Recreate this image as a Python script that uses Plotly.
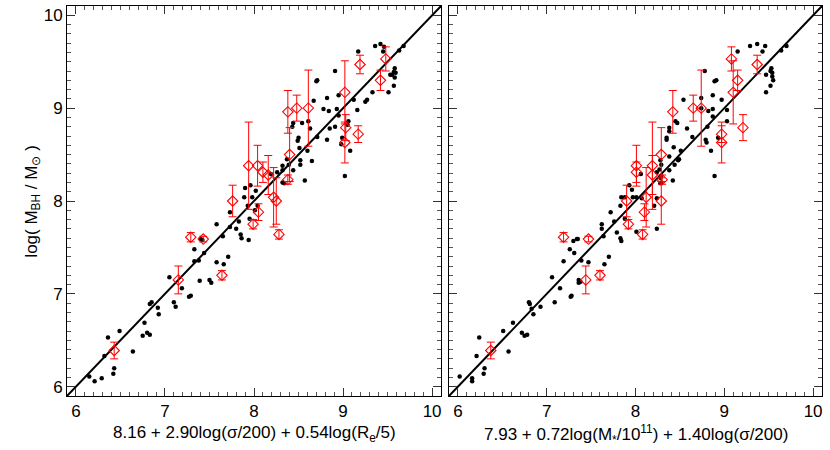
import plotly.graph_objects as go

# ---------------- data ----------------
# Left panel: black points
left_x = [9.36, 9.42, 9.46, 9.45, 9.68, 9.63, 9.17, 9.58, 9.57, 9.59,
          9.53, 9.55, 9.58, 9.57, 9.51, 9.33, 9.27, 9.25, 9.16, 9.12,
          8.91, 8.95, 8.82, 8.71, 8.70, 8.67, 8.78, 8.84, 8.93, 8.95,
          9.06, 9.05, 8.91, 8.85, 8.71, 8.82, 8.99, 8.98, 9.08, 9.02,
          8.61, 8.54, 8.63, 8.43, 8.44, 8.50, 8.49, 8.51, 8.60, 8.65,
          8.52, 8.52, 8.44, 8.39, 8.32, 8.32, 8.37, 8.26, 8.32, 8.34,
          8.57, 8.19, 7.96, 7.90, 8.02, 7.98, 7.89,
          8.04, 7.93, 8.01, 7.95, 7.94, 7.83, 7.80, 7.85, 7.86, 7.73,
          7.73, 7.58, 7.65, 7.71, 7.66, 7.58, 7.33, 7.33, 7.38, 7.44,
          7.40, 7.42, 7.39, 7.50, 7.52, 7.05, 7.19, 7.10, 7.12, 7.27,
          7.29, 6.85, 6.83, 6.92, 6.93, 6.77, 6.75, 6.80, 6.83, 6.49,
          6.36, 6.32, 6.64, 6.43, 6.42, 6.29, 6.21, 6.15]
left_y = [9.67, 9.69, 9.66, 9.61, 9.67, 9.62, 9.61, 9.43, 9.39, 9.38,
          9.36, 9.36, 9.33, 9.24, 9.17, 9.17, 9.09, 9.07, 8.98, 9.09,
          9.40, 9.14, 9.11, 9.30, 9.29, 9.08, 8.99, 8.97, 8.99, 8.92,
          8.86, 8.82, 8.80, 8.78, 8.69, 8.66, 8.68, 8.61, 8.54, 8.27,
          8.86, 8.84, 8.78, 8.80, 8.84, 8.68, 8.65, 8.57, 8.54, 8.43,
          8.44, 8.39, 8.33, 8.39, 8.38, 8.33, 8.45, 8.31, 8.20, 8.19,
          8.22, 8.29, 8.17, 8.14, 8.11, 8.04, 8.04,
          7.95, 7.95, 7.90, 7.81, 7.58, 7.78, 7.70, 7.64, 7.60, 7.88,
          7.72, 7.75, 7.62, 7.40, 7.32, 7.34, 7.48, 7.35, 7.36, 7.44,
          7.59, 7.58, 7.14, 7.15, 7.12, 7.18, 7.06, 6.91, 6.86, 6.97,
          6.98, 6.91, 6.89, 6.85, 6.78, 6.69, 6.55, 6.58, 6.56, 6.60,
          6.53, 6.33, 6.38, 6.20, 6.14, 6.09, 6.06, 6.11]

# Red points with errors (same M_BH in both panels)
red_y = [9.53, 9.47, 9.30, 9.17, 8.79, 8.63, 8.72, 8.96, 9.00, 9.00,
         8.50, 8.23, 8.38, 8.38, 8.31, 8.28, 8.04, 8.00, 7.88, 7.75,
         7.64, 8.00, 7.61, 7.59, 7.15, 7.20, 6.39]
red_err = [0.13, 0.10, 0.11, 0.34, 0.14, 0.22, 0.09, 0.23, 0.14, 0.41,
           0.29, 0.05, 0.47, 0.22, 0.11, 0.21, 0.32, 0.25, 0.09, 0.05,
           0.05, 0.17, 0.05, 0.03, 0.15, 0.05, 0.09]
left_red_x = [9.48, 9.19, 9.42, 9.02, 9.03, 9.02, 9.17, 8.38, 8.48, 8.61,
              8.40, 8.38, 7.94, 8.04, 8.10, 8.16, 8.22, 8.25, 8.05, 7.99,
              8.28, 7.76, 7.29, 7.43, 7.15, 7.64, 6.43]
right_red_x = [9.08, 9.37, 9.15, 9.10, 9.21, 8.97, 8.97, 8.42, 8.65, 8.74,
               8.29, 8.30, 8.19, 8.01, 8.01, 8.19, 8.12, 8.29, 8.10, 7.92,
               8.08, 7.90, 7.19, 7.47, 7.44, 7.60, 6.37]

# Right panel: black points
right_x = [9.29, 9.37, 9.46, 9.43, 9.64, 9.70, 9.15, 9.53, 9.52, 9.54,
           9.54, 9.55, 9.47, 9.52, 9.47, 8.78, 8.89, 8.91, 8.87, 8.74,
           8.97, 8.54, 8.87, 8.82, 8.74, 8.87, 9.03, 9.03, 8.45, 8.47,
           8.81, 8.58, 8.38, 8.38, 8.64, 8.79, 8.80, 8.93, 8.35, 8.35,
           8.43, 8.51, 8.85, 8.48, 8.49, 8.44, 8.38, 8.28, 8.29, 8.27,
           8.24, 8.29, 8.38, 8.42, 8.28, 8.29, 8.28, 8.89, 8.06, 7.96,
           8.01, 8.07, 8.24, 8.21, 8.24, 8.01,
           7.97, 7.84, 7.88, 7.83, 7.88, 7.76, 7.79, 7.83, 7.84, 7.72,
           7.62, 7.62, 7.64, 7.70, 7.65, 7.47, 7.39, 7.31, 7.26, 7.19,
           7.30, 7.34, 7.35, 7.36, 7.38, 7.36, 7.06, 7.15, 7.27, 7.28,
           7.09, 6.93, 6.80, 6.81, 6.83, 6.85, 6.62, 6.51, 6.72, 6.75,
           6.78, 6.57, 6.24, 6.21, 6.30, 6.29, 6.16, 6.16, 6.02, 7.93]
right_y = [9.67, 9.69, 9.67, 9.61, 9.62, 9.67, 9.61, 9.43, 9.40, 9.38,
           9.34, 9.30, 9.36, 9.24, 9.17, 9.40, 9.29, 9.30, 9.14, 9.11,
           9.09, 9.09, 8.99, 8.97, 9.00, 8.91, 8.98, 8.86, 8.86, 8.84,
           8.80, 8.78, 8.79, 8.75, 8.69, 8.66, 8.63, 8.68, 8.68, 8.66,
           8.58, 8.54, 8.54, 8.44, 8.45, 8.39, 8.48, 8.44, 8.39, 8.34,
           8.31, 8.27, 8.33, 8.22, 8.25, 8.20, 8.19, 8.27, 8.29, 8.12,
           8.04, 8.03, 8.03, 7.95, 7.70, 7.67,
           8.04, 8.04, 8.04, 7.95, 7.81, 7.78, 7.66, 7.60, 7.57, 7.88,
           7.75, 7.70, 7.62, 7.40, 7.32, 7.34, 7.36, 7.44, 7.48, 7.35,
           7.57, 7.59, 7.59, 7.15, 7.13, 7.12, 7.18, 7.06, 6.97, 6.98,
           6.91, 6.86, 6.91, 6.89, 6.84, 6.78, 6.69, 6.60, 6.58, 6.55,
           6.56, 6.38, 6.53, 6.33, 6.20, 6.14, 6.09, 6.06, 6.11, 8.17]

axis_range = [5.9, 10.1]
left_xlabel = "8.16 + 2.90log(σ/200) + 0.54log(R<sub>e</sub>/5)"
right_xlabel = "7.93 + 0.72log(M<sub>*</sub>/10<sup>11</sup>) + 1.40log(σ/200)"
ylabel = "log( M<sub>BH</sub> / M<sub>⊙</sub> )"

# ---------------- figure ----------------
FONT = "Liberation Sans, Arial, sans-serif"
fig = go.Figure()

panels = [("x", "y", left_x, left_y, left_red_x),
          ("x2", "y2", right_x, right_y, right_red_x)]
for xa, ya, bx, by, rx in panels:
    fig.add_trace(go.Scatter(x=bx, y=by, mode="markers", xaxis=xa, yaxis=ya,
                             marker=dict(color="black", size=4.5),
                             showlegend=False, hoverinfo="skip"))
    fig.add_trace(go.Scatter(x=axis_range, y=axis_range, mode="lines",
                             xaxis=xa, yaxis=ya,
                             line=dict(color="black", width=2),
                             showlegend=False, hoverinfo="skip"))
    fig.add_trace(go.Scatter(x=rx, y=red_y, mode="markers", xaxis=xa, yaxis=ya,
                             marker=dict(symbol="diamond-open", color="red",
                                         size=8, line=dict(width=1.1, color="red")),
                             error_y=dict(type="data", array=red_err, color="red",
                                          thickness=1, width=4),
                             showlegend=False, hoverinfo="skip"))

common = dict(range=axis_range, tickmode="linear", tick0=6, dtick=1,
              ticks="inside", ticklen=8, tickwidth=1, tickcolor="#333",
              showline=True, linecolor="black", linewidth=1, mirror="allticks",
              showgrid=False, zeroline=False, automargin=False,
              minor=dict(tickmode="linear", tick0=6, dtick=0.1, ticks="inside",
                         ticklen=4, tickwidth=1, tickcolor="#555", showgrid=False),
              tickfont=dict(family=FONT, size=17, color="black"))

fig.update_layout(
    width=830, height=450,
    margin=dict(l=67, r=8, t=6, b=54),
    paper_bgcolor="white", plot_bgcolor="white",
    font=dict(family=FONT, size=17, color="black"),
    xaxis=dict(domain=[0, 0.4954], anchor="y", **common),
    yaxis=dict(domain=[0, 1], anchor="x", **common),
    xaxis2=dict(domain=[0.506, 1], anchor="y2", **common),
    yaxis2=dict(domain=[0, 1], anchor="x2", showticklabels=False, **common),
    annotations=[
        dict(text=left_xlabel, xref="x domain", yref="paper", x=0.5, y=-0.098,
             xanchor="center", yanchor="middle", showarrow=False,
             font=dict(family=FONT, size=17, color="black")),
        dict(text=right_xlabel, xref="x2 domain", yref="paper", x=0.5, y=-0.098,
             xanchor="center", yanchor="middle", showarrow=False,
             font=dict(family=FONT, size=17, color="black")),
        dict(text=ylabel, xref="paper", yref="paper", x=-0.0455, y=0.5,
             xanchor="center", yanchor="middle", textangle=-90, showarrow=False,
             font=dict(family=FONT, size=17, color="black")),
    ],
)

fig.write_html("out.html",
               config={"displayModeBar": False},
               post_script="document.body.style.margin='0';"
                           "document.body.style.overflow='hidden';")
